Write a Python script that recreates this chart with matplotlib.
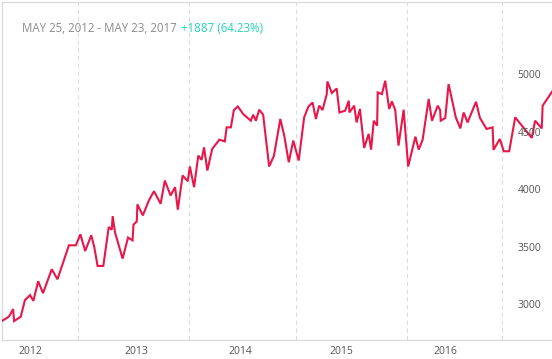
import datetime as dt
import matplotlib
matplotlib.use("Agg")
import matplotlib.pyplot as plt
import matplotlib.transforms as mtransforms

plt.rcParams['font.family'] = ['Open Sans', 'DejaVu Sans']

start_date = dt.date(2012, 5, 25)

# days since start_date
days = [0, 16, 24, 37, 40, 62, 76, 93, 104, 120, 136, 165, 184, 222, 245, 260, 276, 296, 306, 317,
        336, 354, 364, 367, 375, 400, 418, 433, 436, 447, 449, 467, 487, 504, 526, 540, 559, 574, 583, 599,
        616, 623, 637, 651, 662, 670, 681, 697, 721, 739, 745, 759, 769, 782, 800, 825, 833, 842, 853, 866,
        886, 902, 923, 936, 951, 966, 984, 1002, 1016, 1030, 1041, 1052, 1063, 1077, 1079, 1094, 1110, 1119, 1138, 1150,
        1152, 1168, 1176, 1187, 1201, 1216, 1224, 1233, 1244, 1246, 1260, 1271, 1284, 1293, 1304, 1315, 1332, 1347, 1371, 1382,
        1395, 1415, 1426, 1445, 1453, 1455, 1470, 1481, 1505, 1520, 1531, 1544, 1572, 1585, 1607, 1627, 1630, 1651, 1664, 1682,
        1702, 1757, 1768, 1790, 1793, 1824]
values = [2866, 2890, 2907, 2968, 2864, 2901, 3046, 3090, 3040, 3211, 3107, 3315, 3228, 3524, 3524, 3619, 3474, 3611, 3509, 3344,
          3344, 3683, 3660, 3778, 3634, 3408, 3591, 3567, 3703, 3732, 3880, 3784, 3914, 3995, 3886, 4088, 3958, 4030, 3834, 4132,
          4082, 4210, 4030, 4305, 4268, 4377, 4175, 4363, 4444, 4429, 4551, 4551, 4702, 4733, 4667, 4609, 4661, 4609, 4705, 4661,
          4210, 4305, 4624, 4479, 4247, 4436, 4262, 4638, 4731, 4768, 4624, 4740, 4702, 4841, 4951, 4850, 4890, 4681, 4696, 4783,
          4681, 4740, 4594, 4711, 4372, 4494, 4357, 4609, 4566, 4855, 4841, 4957, 4711, 4777, 4702, 4392, 4705, 4210, 4470, 4357,
          4444, 4798, 4609, 4740, 4702, 4609, 4633, 4928, 4638, 4542, 4681, 4594, 4774, 4633, 4537, 4551, 4355, 4450, 4343, 4343,
          4638, 4459, 4609, 4542, 4740, 4861]

grid_days = [252, 620, 975, 1343, 1658]
year_label_days = [93, 444, 789, 1127, 1472]
year_labels = ["2012", "2013", "2014", "2015", "2016"]
y_ticks = [3000, 3500, 4000, 4500, 5000]

title_range = "MAY 25, 2012 - MAY 23, 2017"
title_change = "+1887 (64.23%)"

fig = plt.figure(figsize=(5.52, 3.59), dpi=100)
ax = fig.add_axes([2 / 552, 19 / 359, 550 / 552, 338 / 359])

ax.plot(days, values, color="#e8174a", lw=1.5, solid_joinstyle="miter", zorder=3)

ax.set_xlim(0, 1824)
ax.set_ylim(2699, 5643)

for gd in grid_days:
    ax.axvline(gd, color="#dcdcdc", lw=0.8, ls=(0, (4, 3)), zorder=1)

ax.set_xticks(year_label_days)
ax.set_xticklabels(year_labels)
ax.tick_params(axis="x", length=0, pad=4.5, labelsize=7.5, labelcolor="#555555")
ax.set_yticks([])

trans = mtransforms.blended_transform_factory(ax.transAxes, ax.transData)
for yt in y_ticks:
    ax.text(539 / 550, yt, str(yt), transform=trans, ha="right", va="center",
            fontsize=7.5, color="#555555", zorder=4)

for sp in ax.spines.values():
    sp.set_color("#dddddd")
    sp.set_linewidth(1.0)
ax.spines["right"].set_visible(False)

t1 = fig.text(22 / 552, 1 - 28 / 359, title_range, ha="left", va="center",
              fontsize=8.3, color="#8c8c8c")
fig.canvas.draw()
bb = t1.get_window_extent()
x_next = (bb.x1 + 4) / fig.bbox.width
fig.text(x_next, 1 - 28 / 359, title_change, ha="left", va="center",
         fontsize=8.3, color="#22d6b5")

fig.savefig("out.png", dpi=100)
